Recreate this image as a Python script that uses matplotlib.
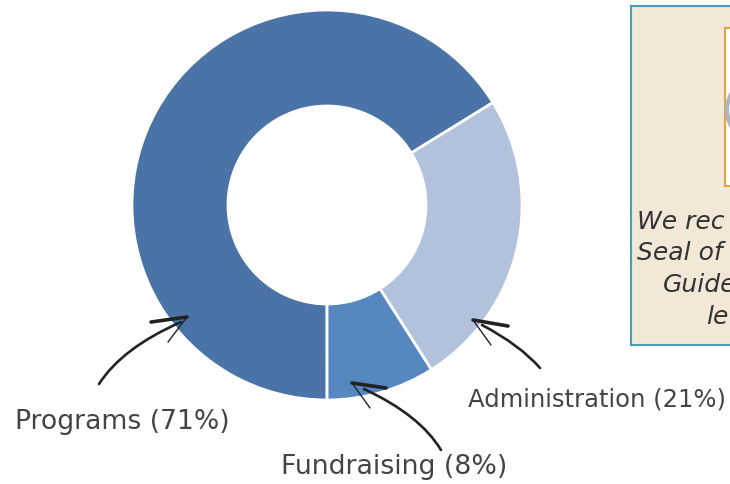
import matplotlib
matplotlib.use("Agg")
import matplotlib.pyplot as plt
from matplotlib.patches import Rectangle, Ellipse, PathPatch
from matplotlib.path import Path

categories = ["Programs", "Fundraising", "Administration"]
# Slice sizes as drawn in the picture (the printed labels differ slightly)
drawn_share = [66.2, 9.0, 24.8]
colors = ["#4A73A7", "#5787C1", "#B2C1DC"]
labels = ["Programs (71%)", "Fundraising (8%)", "Administration (21%)"]
caption_lines = ["We rec", "Seal of", "Guide", "le"]

W, H = 730, 484
fig = plt.figure(figsize=(W / 100, H / 100), dpi=100, facecolor="white")
ax = fig.add_axes([0, 0, 1, 1])
Y = lambda y: H - y

ax.pie(drawn_share, colors=colors, startangle=31.7, center=(327, Y(205)), radius=195,
       wedgeprops=dict(width=96, edgecolor="white", linewidth=2.0), frame=True)
ax.set_aspect("equal")
ax.set_xlim(0, W)
ax.set_ylim(0, H)
ax.axis("off")

# Seal panel, running off the right edge
ax.add_patch(Rectangle((631, Y(345)), 140, 339, fc="#F3E7D7", ec="#4B9BB9", lw=1.5))
ax.add_patch(Rectangle((724.5, Y(186)), 40, 158, fc="white", ec="#DDA63F", lw=1.5))
ax.add_patch(Ellipse((760, Y(110)), 66, 66, fc="white", ec="#A9B6C8", lw=3))

font = ["DejaVu Sans"]
for (txt, x, y) in zip(caption_lines, [637, 637, 663, 706], [222, 253, 285, 317]):
    ax.text(x, Y(y), txt, style="italic", fontsize=18, family=font, color="#333333",
            ha="left", va="center", clip_on=True)

for (txt, x, y, fs) in zip(labels, [15, 281, 468], [422, 467, 400], [19.2, 19.3, 17.5]):
    ax.text(x, Y(y), txt, fontsize=fs, family=font, color="#444444", ha="left", va="center")


def curve(pts, lw=1.8):
    codes = [Path.MOVETO] + [Path.CURVE3] * (len(pts) - 1)
    ax.add_patch(PathPatch(Path([(x, Y(y)) for x, y in pts], codes), fc="none", ec="#222222",
                           lw=lw, capstyle="round"))


def line(pts, lw):
    ax.plot([p[0] for p in pts], [Y(p[1]) for p in pts], color="#222222", lw=lw,
            solid_capstyle="round")


# Hand-drawn arrows
curve([(99, 384), (122, 348), (181, 322)], 1.9)
line([(151, 322), (187, 317)], 2.6)
line([(187, 317), (168, 342)], 1.0)

curve([(441, 450), (420, 415), (364, 389)], 1.9)
line([(352, 383), (386, 388)], 2.6)
line([(352, 383), (370, 408)], 1.0)

curve([(540, 368), (520, 345), (482, 325)], 1.9)
line([(473, 320), (508, 326)], 2.6)
line([(473, 320), (491, 345)], 1.0)

fig.savefig("out.png", dpi=100, facecolor="white")
